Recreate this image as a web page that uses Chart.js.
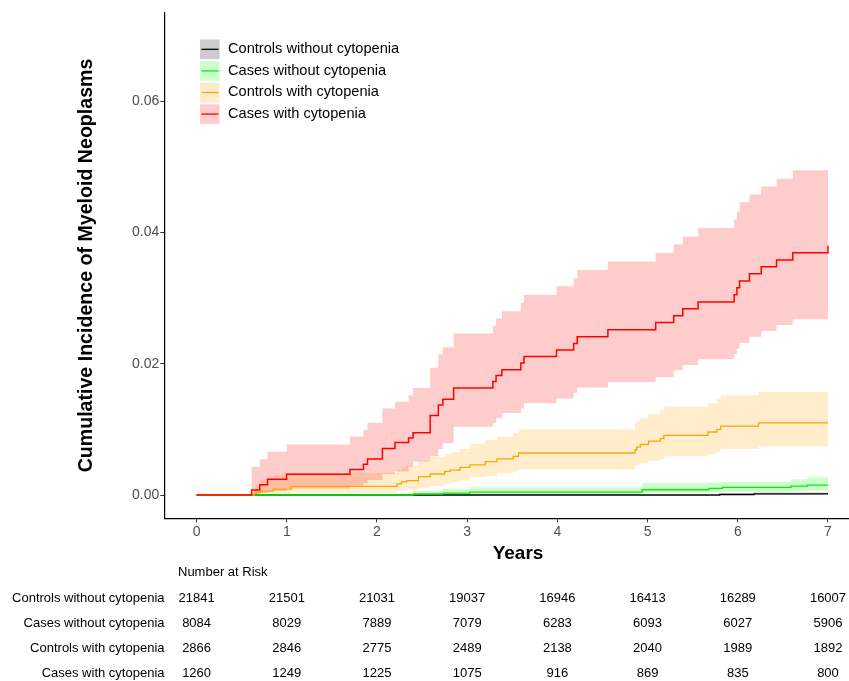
<!DOCTYPE html>
<html>
<head>
<meta charset="utf-8">
<script src="https://cdn.jsdelivr.net/npm/chart.js@4/dist/chart.umd.min.js"></script>
<style>
  html, body { margin: 0; padding: 0; background: #fff; }
  canvas { display: block; }
</style>
</head>
<body>
<canvas id="cif" width="849" height="681"></canvas>
<script>
// groups, colours and the at-risk table
const groups = ['Controls without cytopenia', 'Cases without cytopenia', 'Controls with cytopenia', 'Cases with cytopenia'];
const years = [0, 1, 2, 3, 4, 5, 6, 7];
const yTicks = [0, 0.02, 0.04, 0.06];
const atRiskCtrlNoCyt = [21841, 21501, 21031, 19037, 16946, 16413, 16289, 16007];
const atRiskCaseNoCyt = [8084, 8029, 7889, 7079, 6283, 6093, 6027, 5906];
const atRiskCtrlCyt = [2866, 2846, 2775, 2489, 2138, 2040, 1989, 1892];
const atRiskCaseCyt = [1260, 1249, 1225, 1075, 916, 869, 835, 800];

// step curves (time in years, cumulative incidence, lower / upper CI)
const ctrlNoCytTime = [0, 5.80, 6.18, 7.0];
const ctrlNoCytEst  = [0, 0.00008, 0.00018, 0.00018];
const ctrlNoCytLow  = [0, 0, 0.00003, 0.00003];
const ctrlNoCytHigh = [0, 0.00025, 0.0004, 0.0004];

const caseNoCytTime = [0, 2.40, 2.73, 3.03, 4.94, 5.68, 5.83, 6.59, 6.77, 7.0];
const caseNoCytEst  = [0, 0.00015, 0.0003, 0.00045, 0.0008, 0.0010, 0.00115, 0.00135, 0.0015, 0.0015];
const caseNoCytLow  = [0, 0, 0.00005, 0.0001, 0.0003, 0.0004, 0.0005, 0.0006, 0.0007, 0.0007];
const caseNoCytHigh = [0, 0.0006, 0.0009, 0.0012, 0.0018, 0.0019, 0.0020, 0.0024, 0.0027, 0.0027];

const ctrlCytTime = [0, 0.64, 0.66, 0.71, 0.85, 1.05, 2.22, 2.27, 2.33, 2.46, 2.59, 2.75, 2.81, 2.92, 3.03, 3.20, 3.33, 3.51, 3.57, 4.86, 4.88, 4.92, 5.01, 5.14, 5.18, 5.67, 5.77, 5.81, 6.23, 7.0];
const ctrlCytEst  = [0, 0.00025, 0.0004, 0.0006, 0.0009, 0.0013, 0.0017, 0.0020, 0.0022, 0.0028, 0.0032, 0.0036, 0.0038, 0.0042, 0.0046, 0.0051, 0.0055, 0.0059, 0.0064, 0.0069, 0.0073, 0.0077, 0.0082, 0.0086, 0.0091, 0.0096, 0.0100, 0.0105, 0.0110, 0.0110];
const ctrlCytLow  = [0, 0, 0, 0.0001, 0.0002, 0.0004, 0.0006, 0.0007, 0.0008, 0.0011, 0.0014, 0.0017, 0.0019, 0.0022, 0.0027, 0.0029, 0.0033, 0.0036, 0.0039, 0.0044, 0.0046, 0.0048, 0.0052, 0.0055, 0.0059, 0.0062, 0.0066, 0.0070, 0.0074, 0.0074];
const ctrlCytHigh = [0, 0.0009, 0.0014, 0.0023, 0.0030, 0.0034, 0.0038, 0.0042, 0.0045, 0.0052, 0.0058, 0.0062, 0.0065, 0.0070, 0.0078, 0.0084, 0.0089, 0.0094, 0.0100, 0.0110, 0.0113, 0.0117, 0.0123, 0.0129, 0.0135, 0.0140, 0.0146, 0.0152, 0.0157, 0.0157];

const caseCytTime = [0, 0.61, 0.70, 0.786, 0.998, 1.70, 1.85, 1.895, 2.06, 2.20, 2.35, 2.40, 2.59, 2.68, 2.73, 2.85, 3.285, 3.32, 3.385, 3.595, 3.63, 3.99, 4.18, 4.22, 4.56, 5.09, 5.29, 5.39, 5.56, 5.96, 5.99, 6.02, 6.13, 6.26, 6.43, 6.61, 7.0];
const caseCytEst  = [0, 0.00076, 0.00157, 0.0024, 0.00315, 0.0039, 0.0047, 0.0055, 0.0071, 0.0080, 0.0087, 0.0095, 0.0121, 0.0137, 0.0146, 0.0163, 0.0173, 0.0182, 0.0191, 0.0201, 0.0211, 0.0221, 0.0231, 0.0241, 0.0252, 0.0263, 0.0273, 0.0284, 0.0294, 0.0305, 0.0316, 0.0326, 0.0337, 0.0348, 0.0358, 0.0369, 0.0380];
const caseCytLow  = [0, 0, 0.0003, 0.0006, 0.0010, 0.0014, 0.0018, 0.0023, 0.0032, 0.0036, 0.0043, 0.0051, 0.0059, 0.0070, 0.0079, 0.0104, 0.0110, 0.0117, 0.0125, 0.0132, 0.0140, 0.0147, 0.0156, 0.0164, 0.0172, 0.0180, 0.0190, 0.0198, 0.0207, 0.0215, 0.0223, 0.0232, 0.0241, 0.0250, 0.0259, 0.0268, 0.0277];
const caseCytHigh = [0, 0.0043, 0.0054, 0.0066, 0.0077, 0.0089, 0.0099, 0.0110, 0.0132, 0.0142, 0.0152, 0.0163, 0.0194, 0.0215, 0.0225, 0.0246, 0.0258, 0.0269, 0.0280, 0.0293, 0.0305, 0.0318, 0.0330, 0.0343, 0.0356, 0.0369, 0.0382, 0.0394, 0.0407, 0.0420, 0.0432, 0.0446, 0.0458, 0.0470, 0.0482, 0.0495, 0.0508];

const lineColors = ['#000000', '#00f000', '#ffa500', '#ff0000'];
const bandColors = ['rgba(0,0,0,0.2)', 'rgba(0,255,0,0.2)', 'rgba(255,165,0,0.2)', 'rgba(255,0,0,0.2)'];
const keyColors = ['#cccccc', '#ccffcc', '#ffebcc', '#ffcccc'];
const FONT = "'Liberation Sans', Arial, sans-serif";

const pts = (t, v) => t.map((x, i) => ({ x: x, y: v[i] }));

const series = [
  [ctrlNoCytTime, ctrlNoCytEst, ctrlNoCytLow, ctrlNoCytHigh],
  [caseNoCytTime, caseNoCytEst, caseNoCytLow, caseNoCytHigh],
  [ctrlCytTime, ctrlCytEst, ctrlCytLow, ctrlCytHigh],
  [caseCytTime, caseCytEst, caseCytLow, caseCytHigh]
];

const datasets = [];
// lines first so they are drawn on top (red highest)
for (let g = 3; g >= 0; g--) {
  const s = series[g];
  datasets.push({
    label: groups[g], data: pts(s[0], s[1]), stepped: true,
    borderColor: lineColors[g], borderWidth: g === 3 ? 1.5 : 1.3, pointRadius: 0, fill: false
  });
}
// bands: red band drawn last of the bands
for (let g = 3; g >= 0; g--) {
  const s = series[g];
  datasets.push({
    label: groups[g] + ' upper', data: pts(s[0], s[3]), stepped: true,
    borderColor: 'rgba(0,0,0,0)', borderWidth: 0, pointRadius: 0, fill: false
  });
  datasets.push({
    label: groups[g] + ' lower', data: pts(s[0], s[2]), stepped: true,
    borderColor: 'rgba(0,0,0,0)', borderWidth: 0, pointRadius: 0,
    fill: '-1', backgroundColor: bandColors[g]
  });
}

const extras = {
  id: 'extras',
  afterDraw(chart) {
    const ctx = chart.ctx;
    const xs = chart.scales.x;
    const area = chart.chartArea;
    ctx.save();
    ctx.fillStyle = '#000';

    // y title
    ctx.save();
    ctx.translate(92, (area.top + area.bottom) / 2);
    ctx.rotate(-Math.PI / 2);
    ctx.font = 'bold 19.6px ' + FONT;
    ctx.textAlign = 'center';
    ctx.textBaseline = 'alphabetic';
    ctx.fillText('Cumulative Incidence of Myeloid Neoplasms', 0, 0);
    ctx.restore();

    // x title
    ctx.font = 'bold 19px ' + FONT;
    ctx.textAlign = 'center';
    ctx.textBaseline = 'middle';
    ctx.fillText('Years', 518, 554);

    // legend
    ctx.font = '14.6px ' + FONT;
    ctx.textAlign = 'left';
    for (let i = 0; i < groups.length; i++) {
      const y0 = 39.5 + i * 21.6;
      ctx.fillStyle = keyColors[i];
      ctx.fillRect(200, y0, 19.6, 19.6);
      ctx.strokeStyle = lineColors[i];
      ctx.lineWidth = 1.3;
      ctx.beginPath();
      ctx.moveTo(201.5, y0 + 9.8);
      ctx.lineTo(218.5, y0 + 9.8);
      ctx.stroke();
      ctx.fillStyle = '#000';
      ctx.fillText(groups[i], 228, y0 + 9.5);
    }

    // number at risk
    ctx.font = '13px ' + FONT;
    ctx.textAlign = 'left';
    ctx.fillText('Number at Risk', 178, 572);
    const rows = [atRiskCtrlNoCyt, atRiskCaseNoCyt, atRiskCtrlCyt, atRiskCaseCyt];
    rows.forEach((row, r) => {
      const y = 598.5 + r * 25;
      ctx.textAlign = 'right';
      ctx.fillText(groups[r], 164.5, y);
      ctx.textAlign = 'center';
      row.forEach((n, i) => ctx.fillText(String(n), xs.getPixelForValue(years[i]), y));
    });
    ctx.restore();
  }
};

new Chart(document.getElementById('cif'), {
  type: 'line',
  data: { datasets: datasets },
  options: {
    responsive: false,
    animation: false,
    layout: { padding: { top: 12.7, right: 1, left: 0, bottom: 0 } },
    plugins: { legend: { display: false }, tooltip: { enabled: false } },
    scales: {
      x: {
        type: 'linear', min: -0.358, max: 7.222,
        afterBuildTicks: s => { s.ticks = years.map(v => ({ value: v })); },
        afterFit: s => { s.height = 162.7; },
        grid: { drawOnChartArea: false, drawTicks: true, tickLength: 4, color: '#333' },
        border: { color: '#000', width: 1.2 },
        ticks: { font: { family: FONT, size: 14 }, color: '#4d4d4d', padding: 1, maxRotation: 0, autoSkip: false, callback: v => String(v) }
      },
      y: {
        type: 'linear', min: -0.00355, max: 0.0735,
        afterBuildTicks: s => { s.ticks = yTicks.map(v => ({ value: v })); },
        afterFit: s => { s.width = 164.3; },
        grid: { drawOnChartArea: false, drawTicks: true, tickLength: 4, color: '#333' },
        border: { color: '#000', width: 1.2 },
        ticks: { font: { family: FONT, size: 14 }, color: '#4d4d4d', padding: 1, autoSkip: false, callback: v => v.toFixed(2) }
      }
    }
  },
  plugins: [extras]
});
</script>
</body>
</html>
